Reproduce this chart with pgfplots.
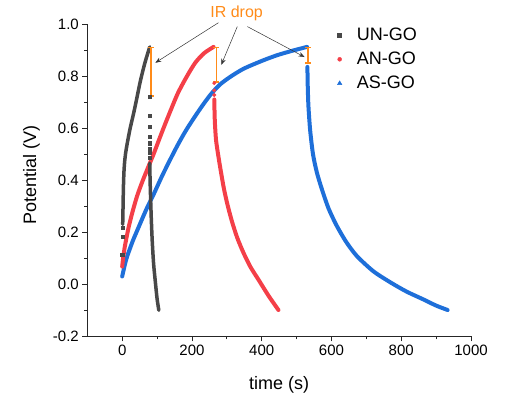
\documentclass[border=0pt]{standalone}
\usepackage{fontspec}
\setmainfont{Liberation Sans}
\usepackage{pgfplots}
\pgfplotsset{compat=1.18}
\usetikzlibrary{arrows.meta}
\definecolor{unGray}{RGB}{72,72,72}
\definecolor{anRed}{RGB}{244,63,72}
\definecolor{asBlue}{RGB}{30,111,217}
\definecolor{irOrange}{RGB}{255,139,25}
\begin{document}
\begin{tikzpicture}
\useasboundingbox (-87.3pt,-61.7pt) rectangle (441.7pt,336.3pt);
\begin{axis}[
  scale only axis, width=383.7pt, height=312.3pt,
  xmin=-100, xmax=1000, ymin=-0.2, ymax=1.0,
  axis x line*=bottom, axis y line*=left,
  axis line style={line width=0.8pt, color=black!85},
  tick align=outside, tick style={line width=0.8pt, color=black!85},
  major tick length=5pt, minor tick length=3pt,
  xtick={0,200,400,600,800,1000}, minor x tick num=1,
  ytick={-0.2,0,0.2,0.4,0.6,0.8,1.0}, minor y tick num=1,
  /pgf/number format/assume math mode=true,
  ticklabel style={font=\fontsize{15}{15}\selectfont},
  yticklabel style={/pgf/number format/fixed, /pgf/number format/fixed zerofill, /pgf/number format/precision=1},
  xticklabel style={/pgf/number format/1000 sep={}},
  xlabel={time (s)}, ylabel={Potential (V)},
  label style={font=\fontsize{18}{18}\selectfont},
  xlabel style={at={(axis description cs:0.5,-0.156)}, anchor=center},
  ylabel style={at={(axis description cs:-0.1455,0.516)}, anchor=center, rotate=0},
  clip=false,
  legend cell align=left,
  legend style={at={(axis description cs:0.628,1.0)}, anchor=north west, draw=none, fill=none,
    font=\fontsize{18}{18}\selectfont, row sep=6pt},
  legend image code/.code={\path (0pt,0pt) (23pt,0pt); \draw[#1] plot coordinates {(8pt,0pt)};},
  curve/.style={line width=4pt, line join=round, line cap=round, smooth, tension=0.45, forget plot},
]
% legend images
\addlegendimage{only marks, mark=square*, mark size=2pt, color=unGray}
\addlegendentry{UN-GO}
\addlegendimage{only marks, mark=*, mark size=2pt, color=anRed}
\addlegendentry{AN-GO}
\addlegendimage{only marks, mark=triangle*, mark size=2.6pt, color=asBlue}
\addlegendentry{AS-GO}

% AS-GO charge / discharge
\addplot[asBlue, curve] coordinates {
(0,0.03) (3,0.048) (8,0.077) (14,0.106) (30,0.165) (48,0.222) (70,0.29) (90,0.345)
(114,0.415) (138,0.48) (160,0.537) (186,0.598) (224,0.675) (253,0.728) (280,0.767)
(310,0.797) (348,0.828) (400,0.858) (444,0.880) (490,0.898) (530,0.912)};
\addplot[asBlue, curve] coordinates {
(531,0.835) (532,0.76) (534,0.683) (539,0.59) (547,0.50) (558,0.43) (573,0.363)
(592,0.29) (615,0.225) (642,0.163) (673,0.108) (720,0.05) (768,0.008) (815,-0.028)
(863,-0.058) (900,-0.082) (933,-0.099)};

% AN-GO charge / discharge
\addplot[anRed, curve] coordinates {
(0,0.068) (3,0.103) (8,0.148) (19,0.222) (30,0.28) (43,0.34) (58,0.395) (74,0.448)
(90,0.50) (105,0.553) (120,0.605) (138,0.665) (160,0.735) (186,0.80) (210,0.852)
(235,0.888) (262,0.912)};
\addplot[anRed, only marks, mark=*, mark size=1.8pt, forget plot] coordinates {
(264,0.773) (264,0.745) (264,0.727)};
\addplot[anRed, curve] coordinates {
(264,0.71) (265.5,0.63) (269,0.555) (276,0.49) (284,0.425) (292,0.365) (302,0.305)
(315,0.24) (330,0.178) (348,0.12) (368,0.066) (391,0.017) (420,-0.045) (448,-0.099)};

% UN-GO charge / discharge
\addplot[unGray, only marks, mark=square*, mark size=1.6pt, forget plot] coordinates {
(0,0.113) (0.5,0.183) (1,0.216)};
\addplot[unGray, curve, line width=3.5pt] coordinates {
(1.5,0.23) (2.5,0.30) (3.5,0.37) (5,0.43) (7,0.47) (10,0.505) (15,0.545) (23,0.60)
(33,0.658) (42,0.715) (52,0.78) (65,0.85) (79,0.912)};
\addplot[unGray, only marks, mark=square*, mark size=1.6pt, forget plot] coordinates {
(79,0.72) (79,0.647) (79,0.604) (79,0.568) (79,0.542) (79,0.522) (79,0.504) (79,0.485)};
\addplot[unGray, curve, line width=3.5pt] coordinates {
(79,0.465) (80,0.40) (81.5,0.33) (83.5,0.25) (86,0.17) (90,0.08) (95,0.01) (100,-0.055) (105,-0.1)};

% IR drop bars
\addplot[irOrange, line width=1.6pt, {Bar[width=6pt]-Bar[width=6pt]}, forget plot] coordinates {(82,0.912) (82,0.72)};
\addplot[irOrange, line width=1.6pt, {Bar[width=6pt]-Bar[width=6pt]}, forget plot] coordinates {(270,0.912) (270,0.773)};
\addplot[irOrange, line width=1.6pt, {Bar[width=6pt]-Bar[width=6pt]}, forget plot] coordinates {(532,0.912) (532,0.847)};

% annotation
\node[text=irOrange, font=\fontsize{16}{16}\selectfont] at (axis cs:328,1.04) {IR drop};
\draw[black!80, line width=0.5pt, -{Stealth[length=6pt,width=4.5pt]}] (axis cs:276,1.005) -- (axis cs:95,0.851);
\draw[black!80, line width=0.5pt, -{Stealth[length=6pt,width=4.5pt]}] (axis cs:330,0.99) -- (axis cs:284,0.843);
\draw[black!80, line width=0.5pt, -{Stealth[length=6pt,width=4.5pt]}] (axis cs:359,0.99) -- (axis cs:523,0.873);
\end{axis}
\end{tikzpicture}
\end{document}
